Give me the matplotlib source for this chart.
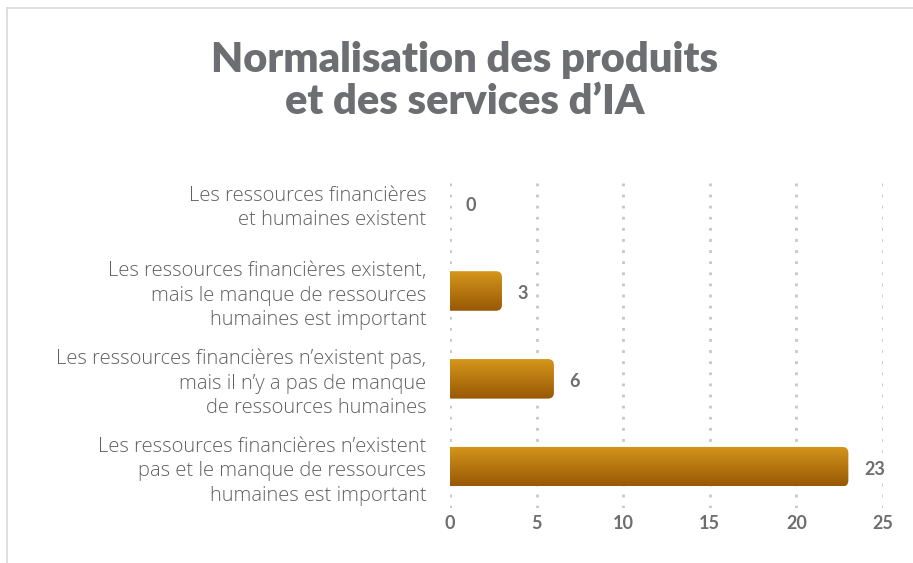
import numpy as np
import matplotlib
matplotlib.use("Agg")
import matplotlib.pyplot as plt
from matplotlib.patches import FancyBboxPatch
from matplotlib.lines import Line2D
from matplotlib.colors import LinearSegmentedColormap

# data
categories = [
    "Les ressources financières\net humaines existent",
    "Les ressources financières existent,\nmais le manque de ressources\nhumaines est important",
    "Les ressources financières n\u2019existent pas,\nmais il n\u2019y a pas de manque\nde ressources humaines",
    "Les ressources financières n\u2019existent\npas et le manque de ressources\nhumaines est important",
]
values = [0, 3, 6, 23]
xticks = [0, 5, 10, 15, 20, 25]
title = "Normalisation des produits\net des services d\u2019IA"

grey = "#6d6e71"
plt.rcParams['font.family'] = ['Lato', 'DejaVu Sans']

fig = plt.figure(figsize=(9.13, 5.63), dpi=100)
ax = fig.add_axes([450/913, 1-508/563, 433/913, 333/563])

# frame lines round the card
fig.add_artist(Line2D([7/913, 1], [1-8/563, 1-8/563], transform=fig.transFigure, color="#d9d9d9", lw=1.2))
fig.add_artist(Line2D([7/913, 7/913], [0, 1-8/563], transform=fig.transFigure, color="#d9d9d9", lw=1.2))

fig.text(0.509, 1-81/563, title, ha="center", va="center", fontsize=30, fontweight="heavy",
         color=grey, linespacing=1.15)

cmap = LinearSegmentedColormap.from_list("gold", ["#985806", "#d4961a"])
grad = np.linspace(0, 1, 64).reshape(-1, 1)
h = 0.45
ypos = np.arange(len(values))

for x in xticks:
    ax.axvline(x, color="#c6c6c6", lw=2, ls=(0, (1, 3)), zorder=0)

for y, v in zip(ypos, values):
    if v > 0:
        patch = FancyBboxPatch((-1, y - h/2), v + 1, h,
                               boxstyle="round,pad=0,rounding_size=0.35",
                               mutation_aspect=0.196, fc="none", ec="none")
        ax.add_patch(patch)
        im = ax.imshow(grad, cmap=cmap, origin="lower", aspect="auto",
                       extent=(0, v, y + h/2, y - h/2), zorder=2)
        im.set_clip_path(patch)
    ax.text(v + 0.9, y + 0.03, str(v), ha="left", va="center", fontsize=13,
            fontweight="bold", color=grey)

ax.set_xlim(0, 25)
ax.set_ylim(3.47, -0.32)
ax.set_xticks(xticks)
ax.set_xticklabels([str(x) for x in xticks], fontsize=13, fontweight="bold", color=grey)
ax.set_yticks(ypos)
ax.set_yticklabels(categories, fontsize=14.5, color="#606060", linespacing=1.3,
                   family=["Open Sans", "DejaVu Sans"], fontweight="light")
ax.tick_params(axis="both", length=0)
ax.tick_params(axis="x", pad=5)
ax.tick_params(axis="y", pad=17)
for s in ax.spines.values():
    s.set_visible(False)

fig.savefig("out.png", dpi=100)
